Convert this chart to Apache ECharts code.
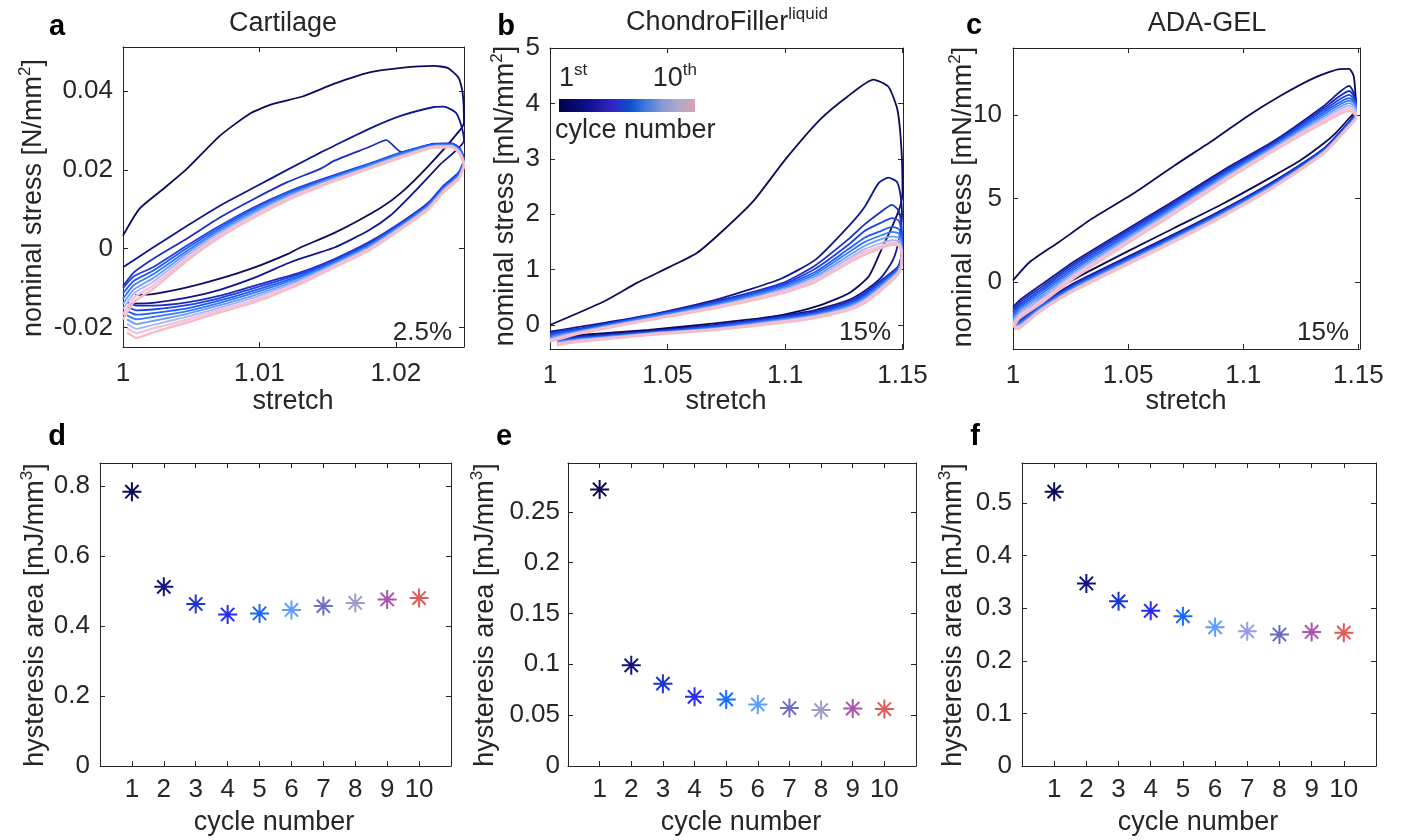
<!DOCTYPE html>
<html>
<head>
<meta charset="utf-8">
<script src="https://cdn.jsdelivr.net/npm/echarts@6.0.0/dist/echarts.min.js"></script>
<style>html,body{margin:0;padding:0;background:#fff;}#chart{width:1401px;height:840px;}</style>
</head>
<body>
<div id="chart"></div>
<script>
// ---------------- DATA ----------------
const cycles = [1, 2, 3, 4, 5, 6, 7, 8, 9, 10];
const hystCartilage = [0.784, 0.512, 0.463, 0.433, 0.436, 0.446, 0.457, 0.466, 0.476, 0.480];
const hystChondro = [0.272, 0.099, 0.081, 0.068, 0.0655, 0.0605, 0.057, 0.055, 0.0565, 0.056];
const hystAda = [0.5215, 0.347, 0.313, 0.295, 0.2846, 0.2637, 0.256, 0.250, 0.2548, 0.2535];

// tick labels
const cartXTicks = [1, 1.01, 1.02];
const cartYTicks = [-0.02, 0, 0.02, 0.04];
const chXTicks = [1, 1.05, 1.1, 1.15];
const chYTicks = [0, 1, 2, 3, 4, 5];
const adaXTicks = [1, 1.05, 1.1, 1.15];
const adaYTicks = [0, 5, 10];
const hystCartYTicks = [0, 0.2, 0.4, 0.6, 0.8];
const hystChYTicks = [0, 0.05, 0.1, 0.15, 0.2, 0.25];
const hystAdaYTicks = [0, 0.1, 0.2, 0.3, 0.4, 0.5];

// Cartilage (2.5%) stress-stretch loops
const cartC1 = [[1.0000,0.0033],[1.0012,0.0101],[1.0029,0.0150],[1.0047,0.0203],[1.0071,0.0286],[1.0093,0.0342],[1.0110,0.0367],[1.0131,0.0385],[1.0155,0.0418],[1.0180,0.0446],[1.0204,0.0458],[1.0228,0.0463],[1.0238,0.0458],[1.0246,0.0433],[1.0249,0.0395],[1.0250,0.0320],[1.0246,0.0296],[1.0224,0.0210],[1.0204,0.0142],[1.0189,0.0104],[1.0155,0.0040],[1.0130,0.0003],[1.0121,-0.0013],[1.0096,-0.0048],[1.0071,-0.0076],[1.0047,-0.0098],[1.0022,-0.0115],[1.0009,-0.0117]];
const cartC2 = [[1.0000,-0.0047],[1.0022,0.0003],[1.0047,0.0058],[1.0071,0.0109],[1.0096,0.0155],[1.0120,0.0199],[1.0145,0.0244],[1.0155,0.0261],[1.0180,0.0303],[1.0204,0.0337],[1.0228,0.0359],[1.0235,0.0360],[1.0244,0.0345],[1.0248,0.0312],[1.0250,0.0274],[1.0233,0.0215],[1.0213,0.0142],[1.0196,0.0084],[1.0180,0.0046],[1.0155,0.0003],[1.0130,-0.0025],[1.0120,-0.0038],[1.0096,-0.0074],[1.0071,-0.0104],[1.0047,-0.0124],[1.0022,-0.0137],[1.0006,-0.0139]];
const cartC3Load = [[1.0000,-0.0095],[1.0008,-0.0060],[1.0022,-0.0026],[1.0047,0.0026],[1.0071,0.0079],[1.0096,0.0126],[1.0120,0.0168],[1.0145,0.0203],[1.0155,0.0223],[1.0180,0.0257],[1.0193,0.0275],[1.0204,0.0245],[1.0228,0.0266],[1.0241,0.0267],[1.0247,0.0254]];
const cartLoadX = [1.0000,1.0008,1.0022,1.0047,1.0071,1.0096,1.0120,1.0145,1.0180,1.0204,1.0228,1.0241,1.0247];
const cartUnloadX = [1.0250,1.0246,1.0235,1.0224,1.0204,1.0180,1.0155,1.0130,1.0096,1.0071,1.0047,1.0022,1.0010,1.0003];
const cartLoadY = [ // cycles 4..10
  [-0.0100,-0.0070,-0.0047,0.0008,0.0058,0.0105,0.0143,0.0175,0.0215,0.0244,0.0265,0.0266,0.0253],
  [-0.0113,-0.0081,-0.0056,0.0002,0.0053,0.0101,0.0140,0.0172,0.0213,0.0242,0.0264,0.0265,0.0251],
  [-0.0127,-0.0092,-0.0065,-0.0005,0.0048,0.0096,0.0136,0.0169,0.0211,0.0240,0.0262,0.0263,0.0249],
  [-0.0140,-0.0103,-0.0075,-0.0011,0.0044,0.0092,0.0133,0.0167,0.0208,0.0237,0.0261,0.0262,0.0246],
  [-0.0153,-0.0113,-0.0084,-0.0017,0.0039,0.0088,0.0129,0.0164,0.0206,0.0235,0.0259,0.0260,0.0244],
  [-0.0167,-0.0124,-0.0093,-0.0024,0.0034,0.0083,0.0126,0.0161,0.0204,0.0233,0.0258,0.0259,0.0242],
  [-0.0180,-0.0135,-0.0102,-0.0030,0.0029,0.0079,0.0122,0.0158,0.0202,0.0231,0.0256,0.0257,0.0240]
];
const cartUnloadY = [ // cycles 3..10
  [0.0228,0.0193,0.0160,0.0117,0.0067,0.0016,-0.0026,-0.0060,-0.0094,-0.0119,-0.0136,-0.0144,-0.0144,-0.0136],
  [0.0225,0.0191,0.0158,0.0115,0.0065,0.0013,-0.0029,-0.0064,-0.0100,-0.0125,-0.0143,-0.0154,-0.0156,-0.0147],
  [0.0223,0.0188,0.0155,0.0112,0.0062,0.0010,-0.0032,-0.0068,-0.0106,-0.0131,-0.0151,-0.0163,-0.0167,-0.0158],
  [0.0220,0.0186,0.0153,0.0110,0.0060,0.0007,-0.0035,-0.0072,-0.0112,-0.0137,-0.0158,-0.0173,-0.0179,-0.0169],
  [0.0218,0.0183,0.0150,0.0107,0.0057,0.0004,-0.0038,-0.0077,-0.0118,-0.0143,-0.0165,-0.0183,-0.0191,-0.0179],
  [0.0215,0.0181,0.0148,0.0105,0.0055,0.0001,-0.0041,-0.0081,-0.0124,-0.0149,-0.0172,-0.0193,-0.0203,-0.0190],
  [0.0213,0.0179,0.0145,0.0102,0.0052,-0.0002,-0.0044,-0.0085,-0.0130,-0.0155,-0.0180,-0.0202,-0.0214,-0.0201],
  [0.0210,0.0176,0.0143,0.0100,0.0050,-0.0005,-0.0047,-0.0089,-0.0136,-0.0161,-0.0187,-0.0212,-0.0226,-0.0212]
];

// ChondroFiller liquid (15%) loops
const chC1 = [[1.000,0.00],[1.0227,0.42],[1.037,0.76],[1.051,1.05],[1.0625,1.30],[1.074,1.72],[1.0866,2.24],[1.1000,2.98],[1.115,3.71],[1.1265,4.12],[1.1376,4.43],[1.144,4.30],[1.1478,3.89],[1.1495,3.20],[1.1500,2.40],[1.1490,2.14],[1.1450,1.72],[1.1410,1.36],[1.1355,0.87],[1.1270,0.57],[1.1130,0.33],[1.0985,0.18],[1.0850,0.10],[1.0700,0.03],[1.0420,-0.09],[1.0130,-0.18],[1.0020,-0.24]];
const chC2 = [[1.000,-0.12],[1.013,-0.03],[1.042,0.18],[1.070,0.45],[1.084,0.63],[1.0985,0.84],[1.113,1.18],[1.127,1.78],[1.134,2.14],[1.1398,2.56],[1.144,2.66],[1.1475,2.59],[1.149,2.38],[1.1498,2.00],[1.1485,1.55],[1.146,1.18],[1.141,0.86],[1.134,0.62],[1.127,0.45],[1.113,0.27],[1.0985,0.17],[1.085,0.08],[1.070,0.00],[1.042,-0.11],[1.013,-0.21],[1.002,-0.27]];
const chUpX = [1.0000,1.0050,1.0130,1.0420,1.0700,1.0985,1.1130,1.1270,1.1340,1.1410,1.1455,1.1485,1.1497];
const chLowX = [1.1495,1.1480,1.1410,1.1340,1.1270,1.1130,1.0985,1.0700,1.0420,1.0130,1.0030];
const chUpY = [ // cycles 3..10
  [-0.15,-0.10,-0.06,0.17,0.42,0.75,1.08,1.55,1.82,2.05,2.17,2.05,1.70],
  [-0.17,-0.12,-0.07,0.16,0.40,0.72,1.02,1.45,1.70,1.85,1.93,1.88,1.60],
  [-0.19,-0.14,-0.09,0.15,0.39,0.70,0.96,1.37,1.58,1.70,1.77,1.73,1.52],
  [-0.21,-0.16,-0.10,0.14,0.37,0.67,0.92,1.31,1.50,1.62,1.68,1.65,1.46],
  [-0.24,-0.18,-0.11,0.12,0.35,0.65,0.88,1.25,1.43,1.55,1.60,1.57,1.40],
  [-0.26,-0.20,-0.12,0.11,0.33,0.62,0.84,1.20,1.37,1.48,1.53,1.51,1.35],
  [-0.28,-0.22,-0.14,0.10,0.32,0.60,0.81,1.16,1.32,1.43,1.48,1.46,1.31],
  [-0.30,-0.24,-0.15,0.09,0.30,0.57,0.78,1.12,1.27,1.39,1.45,1.43,1.28]
];
const chLowY = [ // cycles 3..10
  [1.25,1.05,0.81,0.58,0.42,0.24,0.15,-0.01,-0.12,-0.22,-0.26],
  [1.22,1.03,0.78,0.55,0.40,0.22,0.13,-0.02,-0.13,-0.23,-0.27],
  [1.19,1.01,0.76,0.53,0.38,0.21,0.12,-0.03,-0.14,-0.24,-0.29],
  [1.16,0.99,0.73,0.50,0.36,0.19,0.10,-0.05,-0.15,-0.25,-0.30],
  [1.13,0.97,0.71,0.48,0.33,0.18,0.09,-0.06,-0.15,-0.26,-0.31],
  [1.10,0.95,0.68,0.45,0.31,0.16,0.07,-0.07,-0.16,-0.27,-0.33],
  [1.07,0.93,0.66,0.43,0.29,0.15,0.06,-0.08,-0.17,-0.29,-0.34],
  [1.04,0.91,0.63,0.40,0.27,0.13,0.04,-0.09,-0.18,-0.30,-0.36]
];

// ADA-GEL (15%) loops
const adaC1 = [[1.000,0.10],[1.0073,1.2],[1.020,2.4],[1.0344,3.8],[1.053,5.36],[1.070,6.96],[1.0877,8.56],[1.102,9.94],[1.116,11.13],[1.1306,12.2],[1.142,12.74],[1.146,12.75],[1.148,12.3],[1.1488,11.1],[1.1490,10.3],[1.146,9.8],[1.140,8.9],[1.135,8.3],[1.125,7.3],[1.1134,6.37],[1.092,4.75],[1.0705,3.27],[1.050,1.85],[1.0274,0.24],[1.012,-1.0],[1.003,-2.1],[1.0005,-2.4]];
const adaUpX = [1.000,1.003,1.0129,1.0274,1.0705,1.092,1.1134,1.135,1.146,1.1488];
const adaLowX = [1.1490,1.146,1.135,1.1134,1.092,1.0705,1.0274,1.012,1.003,1.0005];
const adaUpY = [ // cycles 2..10
  [-1.50,-1.07,-0.10,1.31,4.91,6.75,8.45,10.54,11.73,11.00],
  [-1.65,-1.20,-0.24,1.19,4.81,6.66,8.38,10.41,11.43,10.90],
  [-1.80,-1.34,-0.38,1.07,4.72,6.57,8.30,10.29,11.20,10.80],
  [-1.95,-1.47,-0.51,0.94,4.62,6.49,8.23,10.16,11.00,10.70],
  [-2.10,-1.60,-0.65,0.82,4.53,6.40,8.16,10.04,10.85,10.60],
  [-2.25,-1.74,-0.79,0.69,4.43,6.31,8.08,9.91,10.70,10.45],
  [-2.40,-1.87,-0.93,0.57,4.33,6.22,8.01,9.79,10.55,10.30],
  [-2.55,-2.00,-1.06,0.44,4.24,6.14,7.93,9.66,10.40,10.15],
  [-2.70,-2.14,-1.20,0.32,4.14,6.05,7.86,9.54,10.24,10.00]
];
const adaLowY = [ // cycles 2..10
  [10.20,9.60,8.00,6.05,4.40,2.90,0.00,-1.30,-2.20,-2.30],
  [10.15,9.56,7.96,6.00,4.35,2.84,-0.06,-1.36,-2.27,-2.36],
  [10.10,9.53,7.93,5.96,4.30,2.79,-0.12,-1.41,-2.34,-2.42],
  [10.05,9.49,7.89,5.91,4.25,2.73,-0.17,-1.47,-2.40,-2.48],
  [10.00,9.45,7.85,5.86,4.20,2.68,-0.23,-1.53,-2.47,-2.54],
  [9.95,9.41,7.81,5.81,4.14,2.62,-0.29,-1.58,-2.54,-2.60],
  [9.90,9.38,7.78,5.77,4.09,2.56,-0.35,-1.64,-2.61,-2.67],
  [9.85,9.34,7.74,5.72,4.04,2.51,-0.40,-1.69,-2.67,-2.73],
  [9.80,9.30,7.70,5.67,3.99,2.45,-0.46,-1.75,-2.74,-2.80]
];

// colours
const lineColors = ['#0b0b5e','#10168c','#1a2fc0','#2140e6','#1f5cf7','#3479ff','#6a9cff','#a9b6f2','#f0c2e4','#f7bcc2'];
const markerColorsDE = ['#0c0c58','#14147f','#1f35d0','#2a2af5','#1a6aff','#5c9dff','#6e6ec4','#9c9cc8','#b050b0','#e05a5a'];
const markerColorsF = ['#0c0c58','#14147f','#1f35d0','#2a2af5','#1a6aff','#5c9dff','#9a9af0','#6a6ab4','#b050b0','#e05a5a'];

// ---------------- BUILD ----------------
const FONT = '"Liberation Sans", Arial, Helvetica, sans-serif';
const INK = '#262626';
const TICK_FS = 26, LABEL_FS = 27;
function pairs(xs, ys) { return xs.map((x, i) => [x, ys[i]]); }

const cartLoops = [cartC1, cartC2, cartC3Load.concat(pairs(cartUnloadX, cartUnloadY[0]))];
for (let k = 0; k < 7; k++) cartLoops.push(pairs(cartLoadX, cartLoadY[k]).concat(pairs(cartUnloadX, cartUnloadY[k + 1])));
const chLoops = [chC1, chC2];
for (let k = 0; k < 8; k++) chLoops.push(pairs(chUpX, chUpY[k]).concat(pairs(chLowX, chLowY[k])));
const adaLoops = [adaC1];
for (let k = 0; k < 9; k++) adaLoops.push(pairs(adaUpX, adaUpY[k]).concat(pairs(adaLowX, adaLowY[k])));

const grids = [
  {left: 123, top: 47, width: 341, height: 300},
  {left: 550, top: 48, width: 353, height: 301},
  {left: 1013, top: 48, width: 347, height: 301},
  {left: 100, top: 463, width: 351, height: 303},
  {left: 568, top: 463, width: 348, height: 303},
  {left: 1022, top: 463, width: 354, height: 303}
];
const axesSpec = [
  {xmin: 1, xmax: 1.025, xt: cartXTicks, ymin: -0.0249, ymax: 0.0511, yt: cartYTicks, xm: 14, ym: 10},
  {xmin: 1, xmax: 1.1502, xt: chXTicks, ymin: -0.433, ymax: 5, yt: chYTicks, xm: 14, ym: 10},
  {xmin: 1, xmax: 1.1507, xt: adaXTicks, ymin: -4, ymax: 14, yt: adaYTicks, xm: 14, ym: 11},
  {xmin: 0, xmax: 11, xt: cycles, ymin: 0, ymax: 0.866, yt: hystCartYTicks, xm: 11, ym: 10},
  {xmin: 0, xmax: 11, xt: cycles, ymin: 0, ymax: 0.298, yt: hystChYTicks, xm: 11, ym: 8},
  {xmin: 0, xmax: 11, xt: cycles, ymin: 0, ymax: 0.576, yt: hystAdaYTicks, xm: 11, ym: 10}
];
const xAxes = [], yAxes = [];
axesSpec.forEach((s, gi) => {
  const line = {show: true, onZero: false, lineStyle: {color: INK, width: 1}};
  const lab = (vals, m) => ({show: true, customValues: vals, margin: m, fontSize: TICK_FS, color: INK, fontFamily: FONT});
  const tick = vals => ({show: true, inside: true, length: 5, customValues: vals, lineStyle: {color: INK, width: 1}});
  xAxes.push({type: 'value', gridIndex: gi, min: s.xmin, max: s.xmax, position: 'bottom', axisLine: line, axisTick: tick(s.xt), axisLabel: lab(s.xt, s.xm), splitLine: {show: false}});
  xAxes.push({type: 'value', gridIndex: gi, min: s.xmin, max: s.xmax, position: 'top', axisLine: line, axisTick: tick(s.xt), axisLabel: {show: false}, splitLine: {show: false}});
  yAxes.push({type: 'value', gridIndex: gi, min: s.ymin, max: s.ymax, position: 'left', axisLine: line, axisTick: tick(s.yt), axisLabel: lab(s.yt, s.ym), splitLine: {show: false}});
  yAxes.push({type: 'value', gridIndex: gi, min: s.ymin, max: s.ymax, position: 'right', axisLine: line, axisTick: tick(s.yt), axisLabel: {show: false}, splitLine: {show: false}});
});

const series = [];
[cartLoops, chLoops, adaLoops].forEach((loops, gi) => {
  loops.forEach((d, c) => {
    series.push({
      type: 'line', xAxisIndex: 2 * gi, yAxisIndex: 2 * gi, data: d,
      showSymbol: false, symbol: 'none', smooth: 0.2, silent: true,
      lineStyle: {color: lineColors[c], width: c >= 8 ? 2.4 : 1.8}
    });
  });
});
const STAR = 'path://M10,0L10,20M0,10L20,10M3,3L17,17M3,17L17,3';
[[hystCartilage, markerColorsDE], [hystChondro, markerColorsDE], [hystAda, markerColorsF]].forEach(([vals, cols], k) => {
  const gi = 3 + k;
  series.push({
    type: 'scatter', xAxisIndex: 2 * gi, yAxisIndex: 2 * gi, silent: true,
    symbol: STAR, symbolSize: 19,
    data: cycles.map((c, i) => ({value: [c, vals[i]], itemStyle: {color: 'rgba(0,0,0,0)', opacity: 1, borderColor: cols[i], borderWidth: 2}}))
  });
});

function text(x, y, t, o) {
  o = o || {};
  return {
    type: 'text', x: x, y: y, rotation: o.rot || 0, silent: true,
    style: {
      text: t, fontSize: o.size || LABEL_FS, fontFamily: FONT, fontWeight: o.weight || 'normal',
      fill: o.fill || INK, align: o.align || 'center', verticalAlign: 'middle', rich: o.rich
    }
  };
}
const supRich = (main, sup) => ({
  n: {fontSize: main, fontFamily: FONT, fill: INK, lineHeight: main + 8},
  s: {fontSize: sup, fontFamily: FONT, fill: INK, verticalAlign: 'top', lineHeight: sup}
});
const R = Math.PI / 2;
const graphic = [
  text(57, 27, 'a', {size: 29, weight: 'bold', fill: '#000'}),
  text(506, 27, 'b', {size: 29, weight: 'bold', fill: '#000'}),
  text(974, 26, 'c', {size: 29, weight: 'bold', fill: '#000'}),
  text(57, 437, 'd', {size: 29, weight: 'bold', fill: '#000'}),
  text(504, 437, 'e', {size: 29, weight: 'bold', fill: '#000'}),
  text(975, 437, 'f', {size: 29, weight: 'bold', fill: '#000'}),
  text(283, 24, 'Cartilage'),
  text(727, 23, '{n|ChondroFiller}{s|liquid}', {rich: supRich(LABEL_FS, 17)}),
  text(1207, 24, 'ADA-GEL'),
  text(34, 198, '{n|nominal stress [N/mm}{s|2}{n|]}', {rot: R, rich: supRich(LABEL_FS, 17)}),
  text(506, 196, '{n|nominal stress [mN/mm}{s|2}{n|]}', {rot: R, rich: supRich(LABEL_FS, 17)}),
  text(964, 197, '{n|nominal stress [mN/mm}{s|2}{n|]}', {rot: R, rich: supRich(LABEL_FS, 17)}),
  text(36, 615, '{n|hysteresis area [mJ/mm}{s|3}{n|]}', {rot: R, rich: supRich(LABEL_FS, 17)}),
  text(486, 615, '{n|hysteresis area [mJ/mm}{s|3}{n|]}', {rot: R, rich: supRich(LABEL_FS, 17)}),
  text(954, 615, '{n|hysteresis area [mJ/mm}{s|3}{n|]}', {rot: R, rich: supRich(LABEL_FS, 17)}),
  text(293, 402, 'stretch'),
  text(726, 402, 'stretch'),
  text(1186, 402, 'stretch'),
  text(274, 823, 'cycle number'),
  text(741, 823, 'cycle number'),
  text(1198, 823, 'cycle number'),
  text(452, 333, '2.5%', {align: 'right', size: 26}),
  text(891, 333, '15%', {align: 'right', size: 26}),
  text(1349, 333, '15%', {align: 'right', size: 26}),
  {
    type: 'rect', silent: true, shape: {x: 559, y: 99, width: 136, height: 13},
    style: {fill: new echarts.graphic.LinearGradient(0, 0, 1, 0, [
      {offset: 0, color: '#00004a'}, {offset: 0.22, color: '#101090'}, {offset: 0.4, color: '#3326c8'},
      {offset: 0.52, color: '#0a4fd2'}, {offset: 0.63, color: '#3c78dc'}, {offset: 0.76, color: '#8a98d4'},
      {offset: 0.88, color: '#b0a8c8'}, {offset: 1, color: '#d6a2b2'}])}
  },
  text(559, 79, '{n|1}{s|st}', {align: 'left', rich: supRich(LABEL_FS, 17)}),
  text(697, 79, '{n|10}{s|th}', {align: 'right', rich: supRich(LABEL_FS, 17)}),
  text(555, 131, 'cylce number', {align: 'left'})
];

const chart = echarts.init(document.getElementById('chart'), null, {renderer: 'canvas'});
chart.setOption({
  backgroundColor: '#ffffff',
  animation: false,
  grid: grids,
  xAxis: xAxes,
  yAxis: yAxes,
  series: series,
  graphic: graphic
});
</script>
</body>
</html>
